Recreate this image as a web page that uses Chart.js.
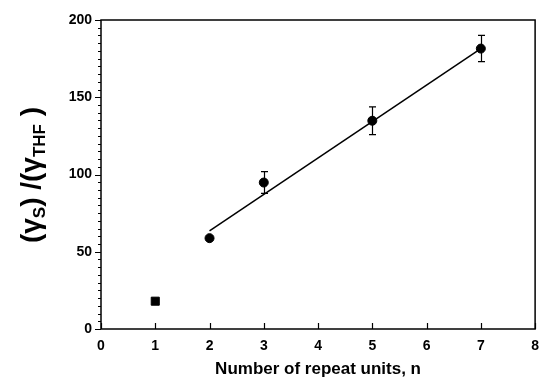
<!DOCTYPE html>
<html>
<head>
<meta charset="utf-8">
<script src="https://cdn.jsdelivr.net/npm/chart.js@4/dist/chart.umd.min.js"></script>
<style>
  html, body { margin: 0; padding: 0; background: #fff; }
  #wrap { width: 548px; height: 383px; }
</style>
</head>
<body>
<div id="wrap"><canvas id="chart"></canvas></div>
<script>
// values
const repeatUnits = [2, 3, 5, 7];
const ratios = [58.8, 94.8, 134.8, 181.5];
const ratioErrors = [0, 7, 9, 8.5];
const refUnits = [1];
const refRatios = [18];
const fitUnits = [2, 7];
const fitRatios = [63.5, 181.5];
const xTicks = [0, 1, 2, 3, 4, 5, 6, 7, 8];
const yTicks = [0, 50, 100, 150, 200];

const FONT = "'Liberation Sans', Arial, sans-serif";

// frame, inward x ticks, minor y ticks, error bars, y title
const decorations = {
  id: "decorations",
  afterDatasetsDraw(chart) {
    const ctx = chart.ctx;
    const { left, right, top, bottom } = chart.chartArea;
    const xs = chart.scales.x;
    const ys = chart.scales.y;
    ctx.save();
    ctx.strokeStyle = "#000";
    ctx.lineWidth = 1.5;
    ctx.strokeRect(left, top, right - left, bottom - top);

    ctx.lineWidth = 1.2;
    ctx.beginPath();
    xTicks.forEach((v) => {
      const px = Math.round(xs.getPixelForValue(v)) + 0.5;
      ctx.moveTo(px, bottom);
      ctx.lineTo(px, bottom - 6);
    });
    yTicks.forEach((v) => {
      const py = Math.round(ys.getPixelForValue(v)) + 0.5;
      ctx.moveTo(left, py);
      ctx.lineTo(left - 6, py);
    });
    ctx.stroke();

    ctx.lineWidth = 1;
    ctx.beginPath();
    for (let v = 5; v < 200; v += 5) {
      if (v % 50 === 0) continue;
      const py = Math.round(ys.getPixelForValue(v)) + 0.5;
      ctx.moveTo(left, py);
      ctx.lineTo(left - 3, py);
    }
    ctx.stroke();

    // error bars
    ctx.lineWidth = 1.2;
    ctx.beginPath();
    repeatUnits.forEach((n, i) => {
      const e = ratioErrors[i];
      if (!e) return;
      const px = Math.round(xs.getPixelForValue(n)) + 0.5;
      const hi = ys.getPixelForValue(ratios[i] + e);
      const lo = ys.getPixelForValue(ratios[i] - e);
      ctx.moveTo(px, hi);
      ctx.lineTo(px, lo);
      ctx.moveTo(px - 3.5, hi);
      ctx.lineTo(px + 3.5, hi);
      ctx.moveTo(px - 3.5, lo);
      ctx.lineTo(px + 3.5, lo);
    });
    ctx.stroke();

    // y axis title with subscripts, rotated
    const parts = [
      ["(\u03B3", 28, 0],
      ["S", 17, 5],
      [") /(\u03B3", 28, 0],
      ["THF", 17, 5],
      [" )", 28, 0],
    ];
    let total = 0;
    parts.forEach((p) => {
      ctx.font = "bold " + p[1] + "px " + FONT;
      total += ctx.measureText(p[0]).width;
    });
    ctx.translate(40, 175);
    ctx.rotate(-Math.PI / 2);
    ctx.fillStyle = "#000";
    ctx.textBaseline = "alphabetic";
    ctx.textAlign = "left";
    let cx = -total / 2;
    parts.forEach((p) => {
      ctx.font = "bold " + p[1] + "px " + FONT;
      ctx.fillText(p[0], cx, p[2]);
      cx += ctx.measureText(p[0]).width;
    });
    ctx.restore();
  },
};

new Chart(document.getElementById("chart").getContext("2d"), {
  type: "scatter",
  data: {
    datasets: [
      {
        label: "fit",
        data: fitUnits.map((x, i) => ({ x, y: fitRatios[i] })),
        showLine: true,
        borderColor: "#000",
        borderWidth: 1.5,
        pointRadius: 0,
      },
      {
        label: "n",
        data: repeatUnits.map((x, i) => ({ x, y: ratios[i] })),
        pointStyle: "circle",
        pointRadius: 4.5,
        backgroundColor: "#000",
        borderColor: "#000",
      },
      {
        label: "ref",
        data: refUnits.map((x, i) => ({ x, y: refRatios[i] })),
        pointStyle: "rect",
        pointRadius: 5.7,
        backgroundColor: "#000",
        borderColor: "#000",
      },
    ],
  },
  plugins: [decorations],
  options: {
    responsive: true,
    maintainAspectRatio: false,
    animation: false,
    layout: { padding: { top: 20, right: 5, left: 0, bottom: 0 } },
    plugins: {
      legend: { display: false },
      tooltip: { enabled: false },
    },
    scales: {
      x: {
        type: "linear",
        min: 0,
        max: 8,
        afterBuildTicks: (s) => { s.ticks = xTicks.map((v) => ({ value: v })); },
        grid: { display: false, drawTicks: false },
        border: { display: false },
        ticks: {
          color: "#000",
          padding: 9,
          font: { family: FONT, size: 14, weight: "bold" },
        },
        title: {
          display: true,
          text: "Number of repeat units, n",
          color: "#000",
          padding: { top: 4, bottom: 3 },
          font: { family: FONT, size: 17, weight: "bold" },
        },
        afterFit: (s) => { s.height = 54; },
      },
      y: {
        min: 0,
        max: 200,
        afterBuildTicks: (s) => { s.ticks = yTicks.map((v) => ({ value: v })); },
        grid: { display: false, drawTicks: false },
        border: { display: false },
        ticks: {
          color: "#000",
          padding: 9,
          font: { family: FONT, size: 14, weight: "bold" },
        },
        afterFit: (s) => { s.width = 101; },
      },
    },
  },
});
</script>
</body>
</html>
